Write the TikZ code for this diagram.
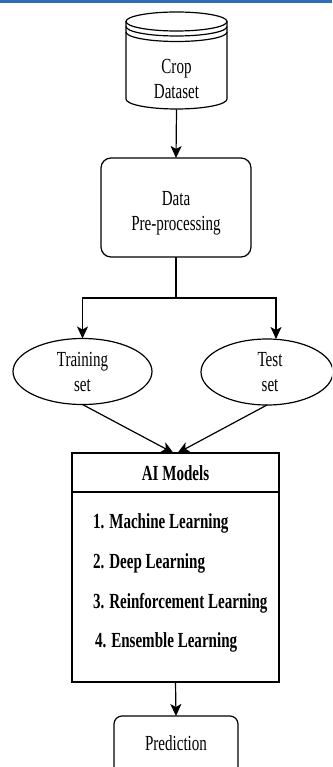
\documentclass[tikz,border=0pt]{standalone}
\usepackage{fontspec}
\setmainfont{Liberation Serif}[FakeStretch=0.70]
\usetikzlibrary{arrows.meta,shapes.geometric}
\definecolor{topblue}{HTML}{2F6EB5}
\begin{document}
\begin{tikzpicture}[x=1pt,y=-1pt,
  line width=1.2pt,
  every node/.style={font=\fontsize{21.5}{25}\selectfont, align=center, inner sep=0pt, outer sep=0pt},
  arr/.style={-{Stealth[length=12pt,width=11pt,inset=3pt]}},
  rbox/.style={draw, rounded corners=10pt, rectangle},
  oval/.style={draw, ellipse, minimum width=139pt, minimum height=66pt},
  item/.style={anchor=west, font=\fontsize{21.5}{25}\selectfont\bfseries}
]
\clip (0,0) rectangle (332,767);
\fill[white] (0,0) rectangle (332,767);
% top blue rule
\draw[topblue, line width=2.5pt] (0,1.5) -- (332,1.5);

% cylinder (datastore)
\draw (176.5,21.5) ellipse [x radius=50.5, y radius=9.5];
\draw (126,26.5) arc[start angle=180, end angle=0, x radius=50.5, y radius=9.5];
\draw (126,32) arc[start angle=180, end angle=0, x radius=50.5, y radius=9.5];
\draw (126,21.5) -- (126,99) arc[start angle=180, end angle=0, x radius=50.5, y radius=10] -- (227,21.5);
\node[minimum width=101pt, minimum height=62pt] (ds) at (176.5,78.5) {Crop\\Dataset};

% preprocessing
\node[rbox, minimum width=150pt, minimum height=99pt] (pre) at (176,207.5) {};
\node (pret) at (176,213) {Data\\Pre-processing};

% training / test
\node[oval] (train) at (82.5,371.5) {Training\\set};
\node[oval, minimum width=132pt] (test) at (267,372) {};
\node (testt) at (270,372) {Test\\set};

% AI models
\node[draw, rectangle, minimum width=207pt, minimum height=229pt] (ai) at (175.5,567.5) {};
\draw (ai.west |- 0,492) coordinate (dl) -- (ai.east |- 0,492) coordinate (dr);
\node[font=\fontsize{21.5}{25}\selectfont\bfseries] (aih) at (175.5,473) {AI Models};
\node[item] (i1) at (93,523) {1. Machine Learning};
\node[item] (i2) at (93,563) {2. Deep Learning};
\node[item] (i3) at (93,603) {3. Reinforcement Learning};
\node[item] (i4) at (95,642) {4. Ensemble Learning};

% prediction
\node[rbox, rounded corners=8pt, minimum width=124pt, minimum height=60pt] (pred) at (176,746) {};
\node (predt) at (176,743) {Prediction};

% connectors
\draw[arr] (ds.south) -- (pre.north);
\draw (pre.south) -- ++(0,41) coordinate (j);
\draw[arr] (j) -| (train.north);
\draw[arr] (j) -| ([xshift=9pt]test.north);
\draw[arr] (train.south) -- ([xshift=-2pt]ai.north);
\draw[arr] (test.south) -- ([xshift=2pt]ai.north);
\draw[arr] (ai.south) -- (pred.north);
\end{tikzpicture}
\end{document}
